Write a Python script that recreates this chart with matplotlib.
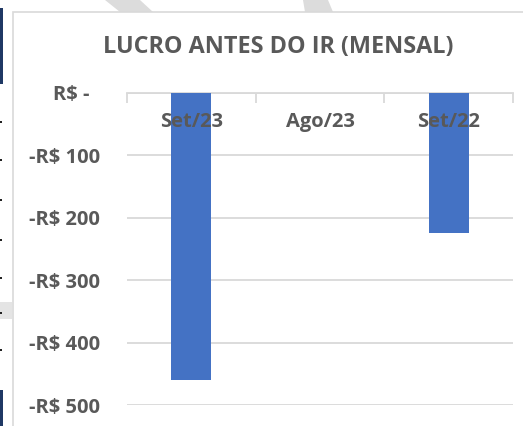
import matplotlib
matplotlib.use("Agg")
import matplotlib.pyplot as plt
from matplotlib.patches import Rectangle, Polygon
from matplotlib.ticker import FixedLocator

categories = ["Set/23", "Ago/23", "Set/22"]
values = [-460, 0, -224]
yticks = [0, -100, -200, -300, -400, -500]
ytick_labels = ["R$ -  ", "-R$ 100", "-R$ 200", "-R$ 300", "-R$ 400", "-R$ 500"]
title = "LUCRO ANTES DO IR (MENSAL)"

W, H = 523, 426
plt.rcParams['font.family'] = ['Open Sans', 'DejaVu Sans']
fig = plt.figure(figsize=(W / 100, H / 100), dpi=100)
fig.patch.set_facecolor("white")

def fx(x):
    return x / W

def fy(y):
    return 1 - y / H

# decorations outside the chart area
grey_wm = "#DCDCDC"
fig.patches.append(Polygon([(fx(105), fy(0)), (fx(140), fy(0)), (fx(153), fy(12)), (fx(120), fy(12))],
                           closed=True, transform=fig.transFigure, facecolor=grey_wm, edgecolor="none"))
fig.patches.append(Polygon([(fx(303), fy(0)), (fx(328), fy(0)), (fx(333), fy(12)), (fx(305), fy(12))],
                           closed=True, transform=fig.transFigure, facecolor=grey_wm, edgecolor="none"))
navy = "#1F3864"
fig.patches.append(Rectangle((fx(0), fy(84)), fx(3), 76 / H, transform=fig.transFigure,
                             facecolor=navy, edgecolor="none"))
fig.patches.append(Rectangle((fx(0), fy(426)), fx(3), 36 / H, transform=fig.transFigure,
                             facecolor=navy, edgecolor="none"))
fig.patches.append(Rectangle((fx(0), fy(319)), fx(12), 17 / H, transform=fig.transFigure,
                             facecolor="#E4E4E4", edgecolor="none"))
for yy in [122, 160, 200, 240, 278, 313, 350]:
    fig.patches.append(Rectangle((fx(0), fy(yy + 1)), fx(2), 2 / H, transform=fig.transFigure,
                                 facecolor="#222222", edgecolor="none"))

# chart border
fig.patches.append(Rectangle((fx(13), fy(440)), fx(540), 428 / H, transform=fig.transFigure,
                             facecolor="none", edgecolor="#D9D9D9", linewidth=1.2))

rect = [fx(127), fy(405), fx(513 - 127), (405 - 93) / H]
ax = fig.add_axes(rect)
ax.set_facecolor("none")
text_col = "#595959"
grid_col = "#D9D9D9"

x = list(range(len(categories)))
ax.bar(x, values, width=0.31, color="#4472C4", zorder=1)

ax.set_ylim(-500, 0)
ax.set_xlim(-0.5, len(categories) - 0.5)
ax.set_yticks(yticks)
ax.set_yticklabels(ytick_labels)
ax.yaxis.grid(True, color=grid_col, linewidth=1.3, zorder=0)
ax.set_axisbelow(True)
for s in ["left", "right", "bottom"]:
    ax.spines[s].set_visible(False)
ax.spines["top"].set_color(grid_col)
ax.spines["top"].set_linewidth(1.3)
ax.spines["top"].set_zorder(0)

ax.tick_params(axis="y", length=0, pad=19.5, labelsize=14.5, labelcolor=text_col)
for lbl in ax.get_yticklabels():
    lbl.set_fontweight("bold")

# category labels on an overlay axis so they sit above the bars
ax2 = ax.twiny()
ax2.set_xlim(ax.get_xlim())
ax2.set_facecolor("none")
for s in ax2.spines.values():
    s.set_visible(False)

ax.set_xticks([])
ax.xaxis.set_minor_locator(FixedLocator([-0.5, 0.5, 1.5, 2.5]))
ax.xaxis.set_ticks_position("top")
ax.tick_params(axis="x", which="minor", top=True, bottom=False, length=7,
               direction="in", color=grid_col, width=1.3)

ax2.xaxis.set_ticks_position("top")
ax2.set_xticks(x)
ax2.set_xticklabels(categories)
ax2.tick_params(axis="x", length=0, pad=-28, labelsize=14.5, labelcolor=text_col)
for lbl in ax2.get_xticklabels():
    lbl.set_fontweight("bold")

fig.text(fx(278), fy(47), title, ha="center", va="center", fontsize=16.8,
         fontweight="bold", color=text_col)

fig.savefig("out.png", dpi=100, facecolor="white")
